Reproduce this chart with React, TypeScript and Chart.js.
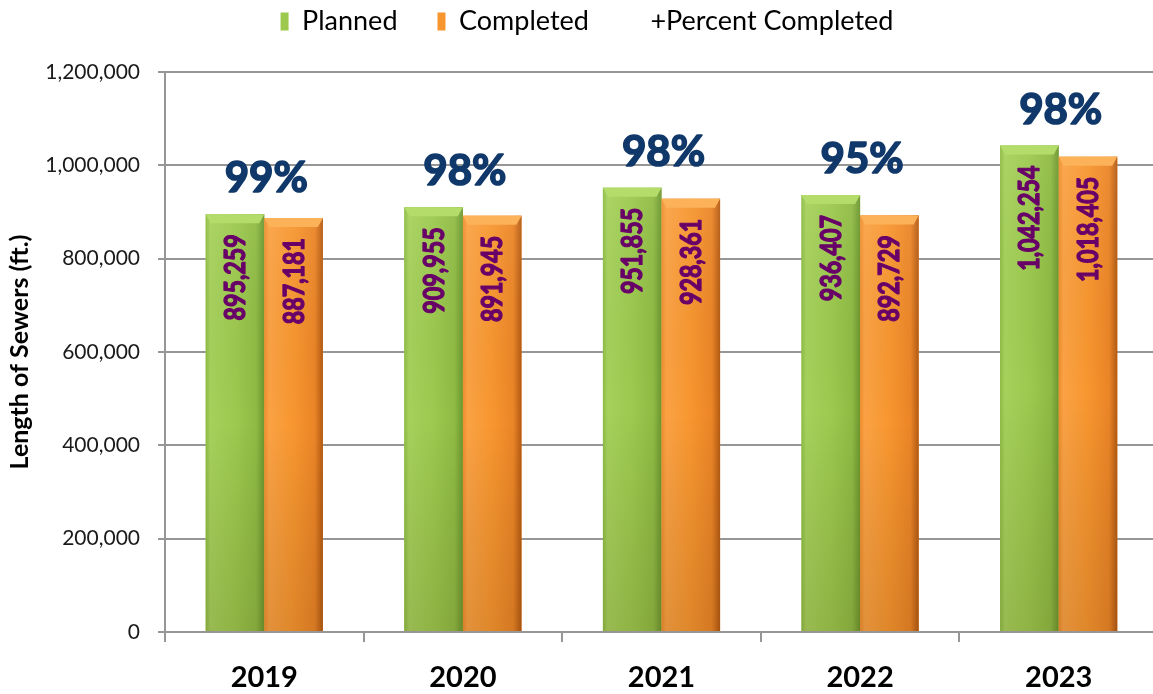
import React, { useEffect, useRef } from 'react';
import { Chart, registerables } from 'chart.js';

Chart.register(...registerables);

const YEARS = ['2019', '2020', '2021', '2022', '2023'];
const PLANNED = [895259, 909955, 951855, 936407, 1042254];
const COMPLETED = [887181, 891945, 928361, 892729, 1018405];
const PERCENT = [99, 98, 98, 95, 98];
const Y_TICKS = [0, 200000, 400000, 600000, 800000, 1000000, 1200000];

const FONT = "Lato, 'Open Sans', sans-serif";

const GREEN = {
  base: '#9cc84d',
  h: [[0, '#8dbb44'], [0.08, '#a6d15c'], [0.5, '#9cc94e'], [0.86, '#8fbb44'], [1, '#6c962f']] as [number, string][],
  bevel: '#b3dc6a',
};
const ORANGE = {
  base: '#f7962f',
  h: [[0, '#ee8d2d'], [0.08, '#faa244'], [0.5, '#f7962f'], [0.86, '#eb8527'], [1, '#b35a12']] as [number, string][],
  bevel: '#fbb259',
};

const fmt = (v: number) => v.toLocaleString('en-US');

const layoutTweak = {
  id: 'layoutTweak',
  beforeLayout(chart: any) {
    const lg = chart.legend;
    if (lg && !lg.__wrapped) {
      const fit = lg.fit;
      lg.fit = function () {
        fit.call(this);
        this.height = 72;
      };
      lg.__wrapped = true;
    }
  },
  afterLayout(chart: any) {
    const lg = chart.legend;
    if (lg) {
      lg.top = -32;
      lg.bottom = lg.top + lg.height;
      lg.left += 8;
      lg.right += 8;
    }
  },
};

const barDecor = {
  id: 'barDecor',
  afterDatasetsDraw(chart: any) {
    const ctx = chart.ctx;
    [0, 1].forEach((di) => {
      const meta = chart.getDatasetMeta(di);
      const pal = di === 0 ? GREEN : ORANGE;
      meta.data.forEach((el: any) => {
        const { x, y, base, width } = el.getProps(['x', 'y', 'base', 'width'], true);
        const l = x - width / 2;
        const r = x + width / 2;
        const h = base - y;
        ctx.save();
        let g = ctx.createLinearGradient(l, 0, r, 0);
        pal.h.forEach(([o, c]) => g.addColorStop(o, c));
        ctx.fillStyle = g;
        ctx.fillRect(l, y, width, h);
        g = ctx.createLinearGradient(0, y, 0, base);
        g.addColorStop(0, 'rgba(255,255,255,0.06)');
        g.addColorStop(0.5, 'rgba(0,0,0,0)');
        g.addColorStop(1, 'rgba(60,30,0,0.13)');
        ctx.fillStyle = g;
        ctx.fillRect(l, y, width, h);
        const bv = 9;
        ctx.beginPath();
        ctx.moveTo(l, y);
        ctx.lineTo(r, y);
        ctx.lineTo(r - 5, y + bv);
        ctx.lineTo(l + 5, y + bv);
        ctx.closePath();
        ctx.fillStyle = pal.bevel;
        ctx.fill();
        ctx.restore();
      });
    });

    // value labels inside bars (rotated)
    ctx.save();
    ctx.font = `bold 28px ${FONT}`;
    ctx.fillStyle = '#680068';
    ctx.strokeStyle = '#680068';
    ctx.lineWidth = 1.3;
    ctx.lineJoin = 'round';
    ctx.textAlign = 'right';
    ctx.textBaseline = 'middle';
    [0, 1].forEach((di) => {
      const meta = chart.getDatasetMeta(di);
      const data = chart.data.datasets[di].data as number[];
      meta.data.forEach((el: any, i: number) => {
        const { x, y } = el.getProps(['x', 'y'], true);
        ctx.save();
        ctx.translate(x + 1, y + 20);
        ctx.rotate(-Math.PI / 2);
        ctx.scale(0.83, 1);
        ctx.fillText(fmt(data[i]), 0, 0);
        ctx.strokeText(fmt(data[i]), 0, 0);
        ctx.restore();
      });
    });
    ctx.restore();

    // percent labels above planned bars
    ctx.save();
    ctx.font = `bold 42px ${FONT}`;
    ctx.fillStyle = '#10386a';
    ctx.strokeStyle = '#10386a';
    ctx.lineWidth = 1.6;
    ctx.lineJoin = 'round';
    ctx.textAlign = 'center';
    ctx.textBaseline = 'alphabetic';
    const pMeta = chart.getDatasetMeta(0);
    const pct = chart.data.datasets[2].data as number[];
    const xs = chart.scales.x;
    pMeta.data.forEach((el: any, i: number) => {
      const { y } = el.getProps(['y'], true);
      const px = xs.getPixelForValue(i) + 2;
      ctx.fillText(`${pct[i]}%`, px, y - 22);
      ctx.strokeText(`${pct[i]}%`, px, y - 22);
    });
    ctx.restore();
  },
};

export default function App() {
  const ref = useRef<HTMLCanvasElement | null>(null);

  useEffect(() => {
    if (!ref.current) return;
    const gridColor = '#969696';
    const chart = new Chart(ref.current, {
      type: 'bar',
      data: {
        labels: YEARS,
        datasets: [
          {
            label: 'Planned',
            data: PLANNED,
            backgroundColor: GREEN.base,
            borderWidth: 0,
            barPercentage: 1,
            categoryPercentage: 0.59,
          },
          {
            label: 'Completed',
            data: COMPLETED,
            backgroundColor: ORANGE.base,
            borderWidth: 0,
            barPercentage: 1,
            categoryPercentage: 0.59,
          },
          {
            type: 'line',
            label: '+Percent Completed',
            data: PERCENT,
            yAxisID: 'yPct',
            showLine: false,
            pointRadius: 0,
            borderColor: 'rgba(0,0,0,0)',
            backgroundColor: 'rgba(0,0,0,0)',
            borderWidth: 0,
          } as any,
        ],
      },
      options: {
        responsive: false,
        devicePixelRatio: 1,
        animation: false,
        layout: { padding: { left: 0, right: 7, top: 0, bottom: 0 } },
        plugins: {
          legend: {
            position: 'top',
            labels: {
              boxWidth: 8,
              boxHeight: 18,
              padding: 40,
              color: '#000',
              font: { family: FONT, size: 27 },
            },
          },
          tooltip: { enabled: false },
        },
        scales: {
          x: {
            grid: {
              offset: true,
              drawOnChartArea: false,
              drawTicks: true,
              tickLength: 10,
              color: gridColor,
              lineWidth: 2,
            },
            border: { display: true, color: gridColor, width: 2 },
            ticks: {
              color: '#000',
              padding: 18,
              font: { family: FONT, size: 29, weight: 'bold' },
            },
            afterFit(scale: any) {
              scale.height = 62;
            },
          },
          y: {
            min: Y_TICKS[0],
            max: Y_TICKS[Y_TICKS.length - 1],
            ticks: {
              stepSize: Y_TICKS[1] - Y_TICKS[0],
              color: '#1a1a1a',
              padding: 18,
              font: { family: FONT, size: 21 },
              callback: (v: any) => fmt(Number(v)),
            },
            grid: {
              color: gridColor,
              lineWidth: 2,
              drawTicks: true,
              tickLength: 7,
            },
            border: { display: true, color: gridColor, width: 2 },
            title: {
              display: true,
              text: 'Length of Sewers (ft.)',
              color: '#000',
              font: { family: FONT, size: 25, weight: 'bold' },
              padding: { top: 5, bottom: 0 },
            },
            afterFit(scale: any) {
              scale.width = 165;
            },
          },
          yPct: {
            display: false,
            min: 0,
            max: 100,
          },
        },
      },
      plugins: [layoutTweak, barDecor],
    } as any);
    return () => chart.destroy();
  }, []);

  return (
    <div
      style={{
        position: 'fixed',
        left: 0,
        top: 0,
        width: 1153,
        height: 694,
        overflow: 'hidden',
        background: '#fff',
      }}
    >
      <canvas ref={ref} width={1165} height={694} style={{ display: 'block', width: 1165, height: 694 }} />
    </div>
  );
}
